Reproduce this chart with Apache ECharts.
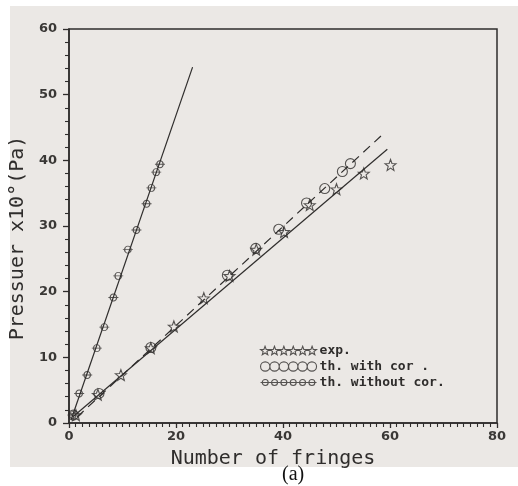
<!DOCTYPE html>
<html>
<head>
<meta charset="utf-8">
<title>Pressure vs fringes</title>
<script src="https://cdn.jsdelivr.net/npm/echarts@6/dist/echarts.min.js"></script>
<style>
  html, body { margin: 0; padding: 0; background: #fff; }
  #chart { width: 518px; height: 486px; }
</style>
</head>
<body>
<div id="chart"></div>
<script>
// series names (legend)
const names = ['exp.', 'th. with cor .', 'th. without cor.']

// exp. points (stars) [fringes, pressure]
const expPts = [
  [1.3, 1.2], [5.4, 4.3], [9.7, 7.3], [15.3, 11.4], [19.6, 14.7], [25.2, 19.0],
  [30.0, 22.4], [35.0, 26.4], [40.2, 29.1], [45.0, 33.2], [50.0, 35.6],
  [55.1, 38.0], [60.1, 39.3]
]
// th. with cor. (circles)
const withCorPts = [
  [0.8, 1.2], [5.6, 4.5], [15.3, 11.5], [29.6, 22.5], [34.9, 26.6],
  [39.2, 29.5], [44.4, 33.5], [47.8, 35.7], [51.1, 38.3], [52.6, 39.5]
]
// th. without cor. (steep branch)
const withoutCorPts = [
  [0.7, 1.2], [1.9, 4.5], [3.4, 7.3], [5.2, 11.4], [6.6, 14.6], [8.3, 19.1],
  [9.2, 22.4], [11.0, 26.4], [12.6, 29.4], [14.5, 33.4], [15.4, 35.8],
  [16.3, 38.2], [17.0, 39.4]
]
// fitted lines, end points
const steepLine = [[0.4, 0.5], [23.1, 54.2]]
const lowLine = [[0.8, 1.0], [59.5, 41.7]]
const dashLine = [[1.5, 0.9], [58.7, 44.0]]

const xRange = [0, 80]
const yRange = [0, 60]

const ink = '#2f2d2c'
const paper = '#ebe8e5'

/* symbols */
function starPath(ox, oy, R, r) {
  let d = ''
  for (let i = 0; i < 10; i++) {
    let rad = i % 2 === 0 ? R : r
    let a = -Math.PI / 2 + i * Math.PI / 5
    let x = (ox + rad * Math.cos(a)).toFixed(2)
    let y = (oy + rad * Math.sin(a)).toFixed(2)
    d += (i === 0 ? 'M' : 'L') + x + ',' + y
  }
  return d + 'Z'
}
function circlePath(ox, oy, r) {
  return 'M' + (ox - r) + ',' + oy + 'A' + r + ',' + r + ' 0 1,1 ' + (ox + r) + ',' + oy +
    'A' + r + ',' + r + ' 0 1,1 ' + (ox - r) + ',' + oy + 'Z'
}
function barCirclePath(ox, oy) {
  // circle crossed by a horizontal stroke
  return 'M' + (ox - 5) + ',' + oy + 'L' + (ox + 5) + ',' + oy + circlePath(ox, oy, 3.2)
}
function repeat(fn, n) {
  let d = ''
  for (let i = 0; i < n; i++) d += fn(5 + i * 10, 5)
  return d
}

const starSym = 'path://' + starPath(5, 5, 5, 2.1)
const circleSym = 'path://' + circlePath(5, 5, 5)
const barSym = 'path://' + barCirclePath(5, 5)

const hollow = { color: 'rgba(0,0,0,0)', borderColor: ink, borderWidth: 1.1 }

let chart = echarts.init(document.getElementById('chart'))

let option = {
  backgroundColor: '#fff',
  animation: false,
  graphic: [
    { type: 'rect', z: -10, silent: true, shape: { x: 10, y: 6, width: 508, height: 461 }, style: { fill: paper } },
    { type: 'text', left: 282, top: 465, style: { text: '(a)', font: '20px "Liberation Serif"', fill: '#111' } }
  ],
  grid: {
    left: 68, top: 29, right: 21, bottom: 63,
    show: true, borderColor: ink, borderWidth: 1.5, backgroundColor: paper
  },
  legend: {
    orient: 'vertical',
    left: 255, top: 339,
    itemWidth: 56, itemHeight: 10, itemGap: 3,
    data: [
      { name: names[0], icon: 'path://' + repeat((x, y) => starPath(x, y, 5, 2.1), 6) },
      { name: names[1], icon: 'path://' + repeat((x, y) => circlePath(x, y, 5), 6) },
      { name: names[2], icon: 'path://' + repeat(barCirclePath, 6) }
    ],
    itemStyle: { color: 'rgba(0,0,0,0)', borderColor: ink, borderWidth: 1.1 },
    textStyle: { fontFamily: 'DejaVu Sans Mono', fontSize: 13, fontWeight: 'bold', color: ink, padding: [0, 0, 0, -2] }
  },
  xAxis: {
    type: 'value', min: xRange[0], max: xRange[1], interval: 20,
    name: 'Number of fringes', nameLocation: 'middle', nameGap: 26,
    nameTextStyle: { fontFamily: 'DejaVu Sans Mono', fontSize: 20, color: ink, padding: [0, 20, 0, 0] },
    axisLine: { onZero: false, lineStyle: { color: ink, width: 1.5 } },
    axisTick: { inside: false, length: 5, lineStyle: { color: ink, width: 1.3 } },
    minorTick: { show: true, splitNumber: 16, length: 4, lineStyle: { color: ink, width: 1.1 } },
    axisLabel: { margin: 7, fontFamily: 'DejaVu Sans', fontWeight: 'bold', fontSize: 13, color: '#3a3836' },
    splitLine: { show: false }
  },
  yAxis: {
    type: 'value', min: yRange[0], max: yRange[1], interval: 10,
    name: 'Pressuer x10°(Pa)', nameLocation: 'middle', nameGap: 41, nameRotate: 90,
    nameTextStyle: { fontFamily: 'DejaVu Sans Mono', fontSize: 20, color: ink, padding: [0, 24, 0, 0] },
    axisLine: { onZero: false, lineStyle: { color: ink, width: 1.5 } },
    axisTick: { inside: false, length: 6, lineStyle: { color: ink, width: 1.3 } },
    minorTick: { show: true, splitNumber: 5, length: 4, lineStyle: { color: ink, width: 1.1 } },
    axisLabel: { margin: 12, fontFamily: 'DejaVu Sans', fontWeight: 'bold', fontSize: 13, color: '#3a3836' },
    splitLine: { show: false }
  },
  series: [
    {
      type: 'line', data: steepLine, showSymbol: false, silent: true,
      lineStyle: { color: ink, width: 1.2 }
    },
    {
      type: 'line', data: lowLine, showSymbol: false, silent: true,
      lineStyle: { color: ink, width: 1.2 }
    },
    {
      type: 'line', data: dashLine, showSymbol: false, silent: true,
      lineStyle: { color: ink, width: 1.2, type: [9, 6] }
    },
    {
      name: names[0], type: 'scatter', data: expPts,
      symbol: starSym, symbolSize: 11, itemStyle: hollow, z: 4
    },
    {
      name: names[1], type: 'scatter', data: withCorPts,
      symbol: circleSym, symbolSize: 10, itemStyle: hollow, z: 3
    },
    {
      name: names[2], type: 'scatter', data: withoutCorPts,
      symbol: barSym, symbolSize: [10, 7], itemStyle: hollow, z: 3
    }
  ]
}

chart.setOption(option)
</script>
</body>
</html>
